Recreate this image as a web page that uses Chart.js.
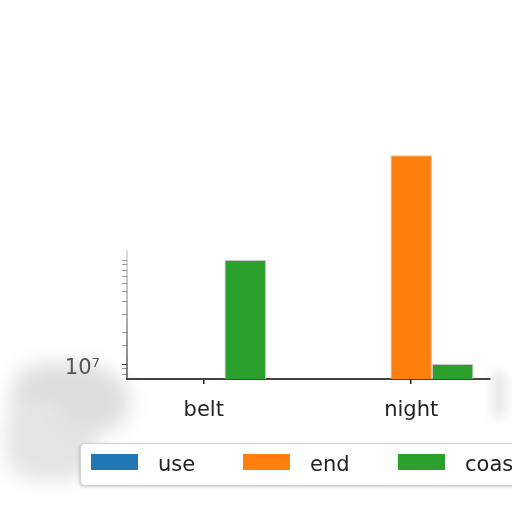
<!DOCTYPE html>
<html>
<head>
<meta charset="utf-8">
<script src="https://cdn.jsdelivr.net/npm/chart.js@4/dist/chart.umd.min.js"></script>
<style>
  html, body { margin: 0; padding: 0; background: #fff; overflow: hidden; }
  #wrap { position: relative; width: 512px; height: 512px; }
  #myChart { position: absolute; left: 0; top: 0; }
  .smudge { position: absolute; background: #dedede; filter: blur(10px); border-radius: 30px; }
  #legend {
    position: absolute; left: 80px; top: 443px; width: 470px; height: 41px;
    border: 1px solid #d0d0d0; border-radius: 5px; background: #fff;
    box-shadow: -1px 1px 3px rgba(0,0,0,0.18);
    font-family: "DejaVu Sans", sans-serif; font-size: 21px; color: #222;
  }
  #legend .item { position: absolute; top: 0; height: 41px; line-height: 40px; }
  #legend .box { position: absolute; top: 10px; width: 47px; height: 16px; }
  #legend .txt { position: absolute; left: 67px; white-space: nowrap; }
</style>
</head>
<body>
<div id="wrap">
  <div class="smudge" style="left:12px; top:364px; width:100px; height:60px;"></div>
  <div class="smudge" style="left:6px; top:400px; width:90px; height:80px; background:#e4e4e4;"></div>
  <div class="smudge" style="left:60px; top:375px; width:70px; height:55px;"></div>
  <div class="smudge" style="left:492px; top:372px; width:14px; height:46px; background:#e6e6e6; filter: blur(6px);"></div>
  <canvas id="myChart" width="512" height="512"></canvas>
  <div id="legend"></div>
</div>
<script>
// Данные графика
const categories = ['belt', 'night'];
const seriesNames = ['use', 'end', 'coast'];
const useValues = [0, 0];
const endValues = [0, 1.02e9];
const coastValues = [1.0e8, 1.0e7];
const colors = ['#1f77b4', '#ff7f0e', '#2ca02c'];

const allValues = [useValues, endValues, coastValues];

// Собираем наборы данных (x - номер категории)
const datasets = seriesNames.map((name, s) => ({
    label: name,
    data: categories.map((c, i) => ({ x: i, y: allValues[s][i] })),
    backgroundColor: colors[s],
    borderColor: '#c8c8c8',
    borderWidth: 1,
    borderSkipped: 'bottom',
    categoryPercentage: 0.6,
    barPercentage: 1.0
}));

// Ось Y рисуем сами - в оригинале видна только нижняя часть
const yAxisLine = {
    id: 'yAxisLine',
    afterDraw(chart) {
        const ctx = chart.ctx;
        const y = chart.scales.y;
        const left = chart.chartArea.left;
        const top = y.getPixelForValue(1.25e8);
        const bottom = chart.chartArea.bottom;
        const grad = ctx.createLinearGradient(0, top, 0, bottom);
        grad.addColorStop(0, 'rgba(120,120,120,0.35)');
        grad.addColorStop(1, 'rgba(60,60,60,0.9)');
        ctx.save();
        ctx.strokeStyle = grad;
        ctx.lineWidth = 1.5;
        ctx.beginPath();
        ctx.moveTo(left, top);
        ctx.lineTo(left, bottom);
        ctx.stroke();
        ctx.restore();
    }
};

const ctx = document.getElementById('myChart').getContext('2d');
const myChart = new Chart(ctx, {
    type: 'bar',
    data: { datasets: datasets },
    plugins: [yAxisLine],
    options: {
        responsive: false,
        animation: false,
        layout: { padding: { top: 145, right: 22, left: 0, bottom: 0 } },
        plugins: { legend: { display: false }, tooltip: { enabled: false } },
        scales: {
            x: {
                type: 'linear',
                min: -0.37,
                max: 1.38,
                offset: false,
                afterFit: (scale) => { scale.height = 133; },
                grid: { offset: false, drawOnChartArea: false, drawTicks: true, tickLength: 5, color: '#222', lineWidth: 1.5 },
                border: { display: true, color: '#444', width: 2 },
                ticks: {
                    stepSize: 1,
                    includeBounds: false,
                    autoSkip: false,
                    maxRotation: 0,
                    padding: 14,
                    color: '#222',
                    font: { family: 'DejaVu Sans', size: 21 },
                    callback: (v) => categories[v] !== undefined && Number.isInteger(v) ? categories[v] : null
                }
            },
            y: {
                type: 'logarithmic',
                min: 7.18e6,
                max: 1.28e9,
                afterFit: (scale) => { scale.width = 127; },
                border: { display: false },
                grid: {
                    drawOnChartArea: false,
                    drawTicks: true,
                    tickLength: 5,
                    lineWidth: 1,
                    color: (c) => {
                        const v = c.tick ? c.tick.value : 0;
                        if (v > 1.05e8 || v < 7.9e6) return 'rgba(0,0,0,0)';
                        return v === 1e7 ? '#333' : '#999';
                    }
                },
                ticks: {
                    autoSkip: false,
                    padding: 22,
                    color: '#555',
                    font: { family: 'DejaVu Sans', size: 21, lineHeight: 0.4 },
                    callback: (v) => v === 1e7 ? ['', '10\u2077'] : ''
                }
            }
        }
    }
});

// Легенда в стиле matplotlib
const legend = document.getElementById('legend');
const offsets = [10, 162, 317];
seriesNames.forEach((name, s) => {
    const item = document.createElement('div');
    item.className = 'item';
    item.style.left = offsets[s] + 'px';
    const box = document.createElement('div');
    box.className = 'box';
    box.style.background = colors[s];
    const txt = document.createElement('div');
    txt.className = 'txt';
    txt.textContent = name;
    item.appendChild(box);
    item.appendChild(txt);
    legend.appendChild(item);
});
</script>
</body>
</html>
